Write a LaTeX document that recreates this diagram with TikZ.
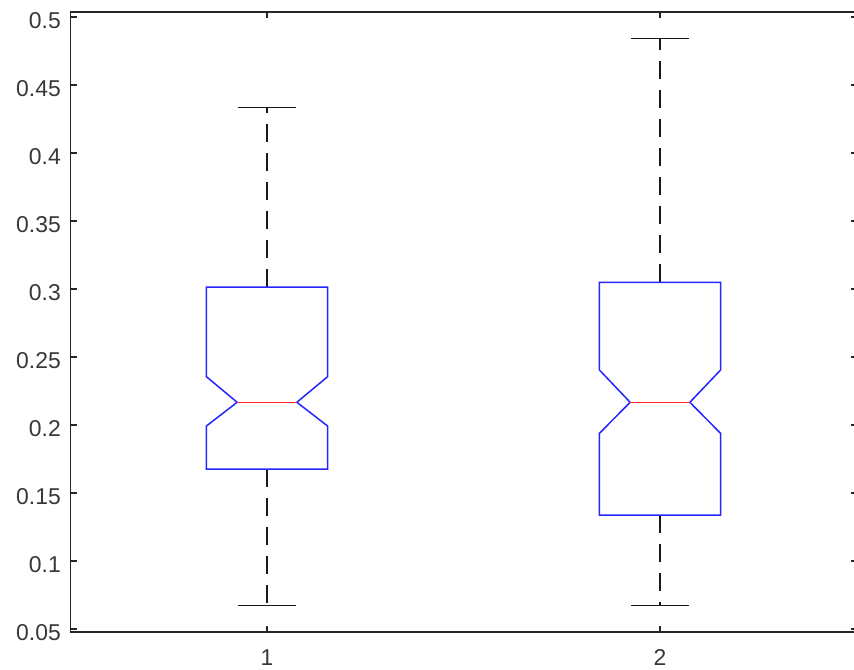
\documentclass[tikz,border=0pt]{standalone}
\usepackage{fontspec}
\setmainfont{Liberation Sans}
\definecolor{axcol}{gray}{0.15}
\definecolor{lblcol}{gray}{0.22}
\begin{document}
\begin{tikzpicture}[
  axisline/.style={draw=axcol, line width=1.3bp},
  boxline/.style={draw=blue!85!white, line width=1.5bp, line join=miter},
  medline/.style={draw=red!85!white, line width=1.4bp},
  whisk/.style={draw=black!90, line width=1.6bp, dash pattern=on 18bp off 11bp},
  capline/.style={draw=black!90, line width=1.3bp},
  ticklbl/.style={text=lblcol, font=\fontsize{23}{27}\selectfont, inner sep=0pt},
]
\clip (0,0) rectangle (854bp,-670bp);
\fill[white] (0,0) rectangle (854bp,-670bp);
\begin{scope}[x=393bp, y=1360bp, shift={(-126bp,-697bp)}]
  % axes box
  \draw[axisline] (0.5,0.0478) rectangle (2.5,0.5037);
  \foreach \v in {0.05,0.1,0.15,0.2,0.25,0.3,0.35,0.4,0.45,0.5} {
    \draw[axisline] (0.5,\v) -- ++(6bp,0);
    \draw[axisline] (2.5,\v) -- ++(-6bp,0);
    \node[ticklbl, anchor=base east, xshift=-9.5bp, yshift=-11.7bp] (yl\v) at (0.5,\v) {\v};
  }
  \foreach \u in {1,2} {
    \draw[axisline] (\u,0.0478) -- ++(0,6bp);
    \draw[axisline] (\u,0.5037) -- ++(0,-6bp);
    \node[ticklbl, anchor=base, yshift=-34bp] (xl\u) at (\u,0.0478) {\u};
  }
  % box 1
  \coordinate (b1top) at (1,0.3013);
  \coordinate (b1bot) at (1,0.1676);
  \coordinate (w1top) at (1,0.4336);
  \coordinate (w1bot) at (1,0.0671);
  \draw[whisk] (b1top) -- (w1top);
  \draw[whisk] (b1bot) -- (w1bot);
  \draw[capline] ([xshift=-29bp]w1top) -- ([xshift=29bp]w1top);
  \draw[capline] ([xshift=-29bp]w1bot) -- ([xshift=29bp]w1bot);
  \draw[boxline] (0.846,0.1676) -- (0.846,0.1993) -- (0.924,0.2167) -- (0.846,0.2355)
    -- (0.846,0.3013) -- (1.154,0.3013) -- (1.154,0.2355) -- (1.076,0.2167)
    -- (1.154,0.1993) -- (1.154,0.1676) -- cycle;
  \draw[medline] (0.924,0.2167) -- (1.076,0.2167);
  % box 2
  \coordinate (b2top) at (2,0.3049);
  \coordinate (b2bot) at (2,0.1338);
  \coordinate (w2top) at (2,0.4843);
  \coordinate (w2bot) at (2,0.0671);
  \draw[whisk] (b2top) -- (w2top);
  \draw[whisk] (b2bot) -- (w2bot);
  \draw[capline] ([xshift=-29bp]w2top) -- ([xshift=29bp]w2top);
  \draw[capline] ([xshift=-29bp]w2bot) -- ([xshift=29bp]w2bot);
  \draw[boxline] (1.846,0.1338) -- (1.846,0.1939) -- (1.924,0.2167) -- (1.846,0.2404)
    -- (1.846,0.3049) -- (2.154,0.3049) -- (2.154,0.2404) -- (2.076,0.2167)
    -- (2.154,0.1939) -- (2.154,0.1338) -- cycle;
  \draw[medline] (1.924,0.2167) -- (2.076,0.2167);
\end{scope}
\end{tikzpicture}
\end{document}
